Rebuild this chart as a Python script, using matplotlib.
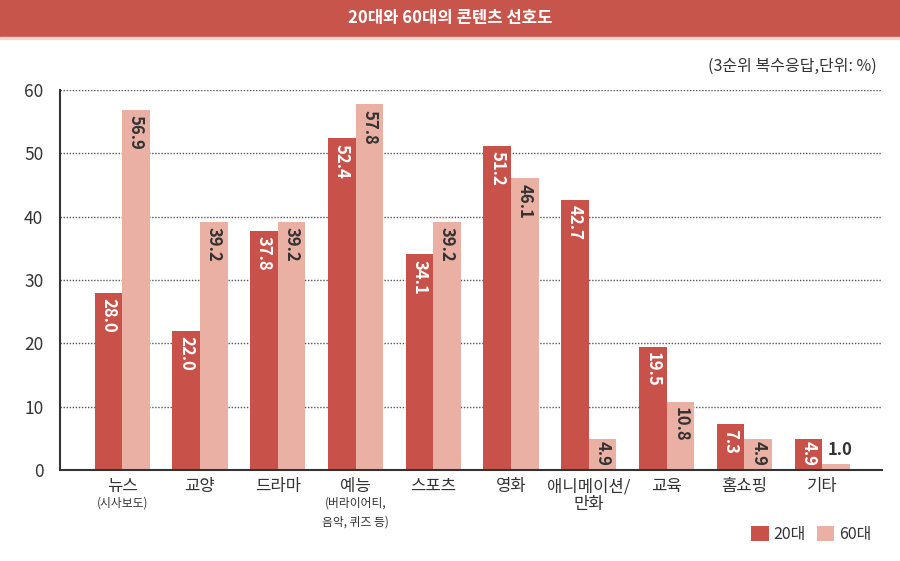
import numpy as np
import matplotlib.pyplot as plt
from matplotlib.patches import Rectangle
from matplotlib.transforms import blended_transform_factory

plt.rcParams['font.family'] = ['Noto Sans CJK KR', 'DejaVu Sans']

categories = ['뉴스', '교양', '드라마', '예능', '스포츠', '영화', '애니메이션/\n만화', '교육', '홈쇼핑', '기타']
subnotes = ['(시사보도)', '', '', '(버라이어티,\n음악, 퀴즈 등)', '', '', '', '', '', '']
age20 = [28.0, 22.0, 37.8, 52.4, 34.1, 51.2, 42.7, 19.5, 7.3, 4.9]
age60 = [56.9, 39.2, 39.2, 57.8, 39.2, 46.1, 4.9, 10.8, 4.9, 1.0]
yticks = [0, 10, 20, 30, 40, 50, 60]

c20 = '#C8524A'
c60 = '#E9B0A3'
dark = '#333333'

fig = plt.figure(figsize=(9, 5.61), dpi=100)

# header band
fig.patches.append(Rectangle((0, 1 - 37 / 561), 1, 37 / 561, transform=fig.transFigure,
                             color='#C8554B', zorder=0))
fig.patches.append(Rectangle((0, 1 - 38.5 / 561), 1, 1.5 / 561, transform=fig.transFigure,
                             color='#F4D3CC', zorder=0))
fig.text(0.5, 1 - 18 / 561, '20대와 60대의 콘텐츠 선호도', color='white', fontsize=12,
         fontweight='bold', ha='center', va='center')
fig.text(877 / 900, 1 - 66 / 561, '(3순위 복수응답,단위: %)', color=dark, fontsize=11.5,
         ha='right', va='center')

ax = fig.add_axes([60 / 900, 1 - 470 / 561, 822 / 900, 380 / 561])
x = np.arange(len(categories))
w = 0.355
b20 = ax.bar(x - w / 2, age20, w, color=c20, zorder=2)
b60 = ax.bar(x + w / 2, age60, w, color=c60, zorder=2)

ax.set_xlim(-0.8, len(categories) - 0.23)
ax.set_ylim(0, 60)
ax.set_yticks(yticks)
ax.tick_params(axis='y', length=0, labelsize=12.5, labelcolor=dark, pad=12)
ax.set_xticks([])
ax.grid(axis='y', linestyle=(0, (1, 1.2)), color='#555555', linewidth=1, zorder=1)
for s in ['top', 'right']:
    ax.spines[s].set_visible(False)
for s in ['left', 'bottom']:
    ax.spines[s].set_color('#333333')
    ax.spines[s].set_linewidth(1.5)


def gap(v):
    # small bars get their label pushed up so it stays inside
    return 0.3 if v < 6 else 0.9


# value labels
for xi, v in zip(x, age20):
    ax.text(xi - w / 2, v - gap(v), f'{v:.1f}', rotation=-90, ha='center', va='top',
            color='white', fontsize=12, fontweight='bold', zorder=3)
for xi, v in zip(x, age60):
    if v < 3:
        ax.text(xi + w / 2 + 0.05, v + 0.8, f'{v:.1f}', ha='center', va='bottom',
                color=dark, fontsize=12, fontweight='bold', zorder=3)
    else:
        ax.text(xi + w / 2, v - gap(v), f'{v:.1f}', rotation=-90, ha='center', va='top',
                color=dark, fontsize=12, fontweight='bold', zorder=3)

# category labels
trans = blended_transform_factory(ax.transData, fig.transFigure)
for xi, cat, sub in zip(x, categories, subnotes):
    ax.text(xi, 1 - 478 / 561, cat, transform=trans, ha='center', va='top',
            fontsize=12, color=dark, linespacing=1.05)
    if sub:
        ax.text(xi, 1 - 497 / 561, sub, transform=trans, ha='center', va='top',
                fontsize=8.5, color=dark, linespacing=1.6)

# legend
ax.legend([b20, b60], ['20대', '60대'], loc='lower right', bbox_to_anchor=(878 / 900, 12 / 561),
          bbox_transform=fig.transFigure, ncol=2, frameon=False, fontsize=11.5,
          handlelength=1.1, handleheight=1.1, handletextpad=0.3, columnspacing=0.7,
          labelcolor=dark, borderaxespad=0)

fig.savefig('out.png', dpi=100)
